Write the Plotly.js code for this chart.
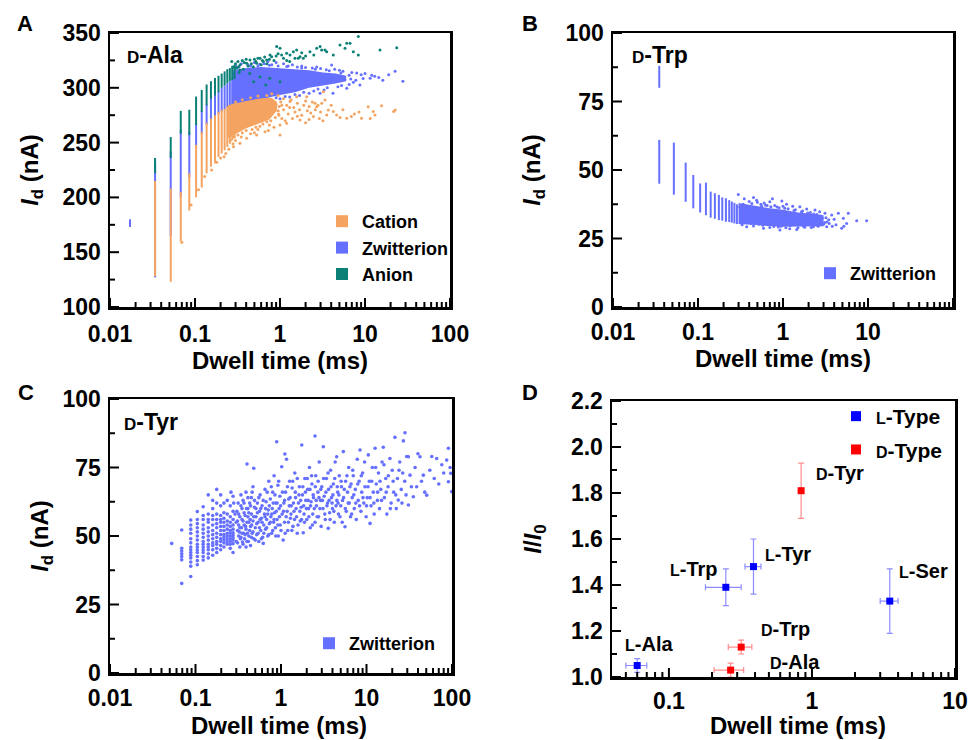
<!DOCTYPE html>
<html><head><meta charset="utf-8">
<script src="https://cdn.plot.ly/plotly-3.0.1.min.js"></script>
<style>html,body{margin:0;padding:0;background:#fff}#chart{width:969px;height:740px}</style>
</head><body><div id="chart"></div>
<script>
// ---------------- Panel A (D-Ala) ----------------
const aColX = [0.0172,0.0339,0.0518,0.068,0.0857,0.103,0.120,0.137,0.154,0.172,0.189,0.206,0.223,0.240,0.257,0.274,0.292];
const aCatMin = [null,128,123,160,188,200,209,222,228,231,237,240,243,246,249,252,254];
const aCatMax = [null,215,208,205,222,248,260,268,272,275,278,280,281,283,284,285,286];
const aZwiMin = [173,127,165,200,218,245,258,266,270,273,276,278,280,282,283,284,285];
const aZwiMax = [180,232,242,262,260,268,279,285,291,294,297,300,302,304,306,308,309];
const aAniMin = [null,222,236,258,257,266,278,284,290,293,296,300,302,304,306,307,308];
const aAniMax = [null,236,255,279,280,292,298,303,306,309,311,313,315,317,318,320,321];
const aZwiCore = [[0.28,316],[0.4,318],[0.6,319],[1.0,318],[1.5,317],[2.2,316],[3.2,314],[4.5,313],[6,311],[6,306],[4.5,304],[3.2,302],[2.2,300],[1.5,296],[1.0,293.5],[0.6,289.5],[0.4,287],[0.28,285]];
const aCatCore = [[0.245,284],[0.4,288],[0.6,290.5],[0.8,291],[0.92,287],[0.92,279],[0.75,271],[0.6,268],[0.4,263],[0.245,254]];
const aZwiPts = [[0.3,320],[0.35,322],[0.42,321],[0.5,323],[0.55,320],[0.65,322],[0.72,324],[0.8,321],[0.9,323],[1.1,322],[1.25,320],[1.4,321],[1.6,319],[1.8,320],[2.0,318.5],[2.4,318],[2.7,319],[3.0,317.5],[3.5,316.5],[4.05,320.8],[4.4,317],[5.0,316],[5.5,315],[7,314],[8,313.5],[9,312],[10,313],[11.5,308.6],[13,310.5],[16.2,307],[22.6,315],[27.9,306],[19,312],[14.5,309.5],[12,311.5],[9.5,308.5],
 [0.45,284],[0.55,286],[0.6,288],[0.7,289],[0.8,287.5],[0.9,291],[1.0,290],[1.15,292],[1.3,291.5],[1.5,294],[1.7,293],[1.9,296],[2.2,295],[2.5,297],[2.8,299],[2.96,295],[3.3,298],[3.6,300],[4.2,295],[4.8,301],[5.3,302],[6.1,299.5],[6.5,303],[7.3,305],[8.7,302.5],[7.8,307],[6.8,308],[5.8,307.5],
 [0.35,282],[0.4,280],[0.5,283],[0.65,285],[0.3,278],
 [0.33,319],[0.45,320],[0.58,321.5],[0.75,320.5],[0.95,320],[1.2,319.5],[1.8,318],[2.6,317],[3.8,315.5],[5.2,313.5],[6.5,311.5]];
const aCatPts = [[0.157,225],[0.22,237],[0.284,246.3],[0.338,249.4],[0.405,253.9],[0.531,257],[0.665,260],[0.73,261],[1.0,257],[1.197,267.6],[1.72,270.6],[2.47,273.7],[2.7,282.8],[3.54,275.2],[3.7,279.8],[4.24,278.3],[4.64,275.2],[5.08,272.8],[6.09,272.2],[6.9,273.7],[9.1,272.2],[10.9,282.8],[12.5,278.3],[13.1,275.2],[15.7,283.7],[21.7,278.3],[22.7,279.8],[3.24,296.5],[3.38,288.9],[2.58,285.9],[2.06,291.9],[1.57,291.9],[1.31,287.4],
 [1.1,280],[1.2,284],[1.25,276],[1.35,289],[1.45,282],[1.5,278],[1.6,286],[1.7,280],[1.8,275],[1.9,284],[2.0,288],[2.1,279],[2.2,283],[2.3,277],[2.4,287],[2.6,280],[2.8,284],[3.0,278],[3.1,286],[2.9,272],[2.2,271],[1.4,272],[1.15,270],[1.05,284],[0.95,279],[0.75,266],[0.55,262],[0.45,258],[0.35,255],[0.3,252],[0.28,249],[0.25,244],[0.23,240],[0.2,236],[0.18,232],
 [4.0,284],[5.5,280],[7.5,276],[8.5,278],[11.5,272],[3.2,270],[0.5,259],[0.85,264],[1.0,266],[1.6,274],[2.0,268],[0.13,219],[0.11,207],[0.09,193],[0.07,159],[1.1,290],[0.9,285],[1.3,282],[0.7,286],[0.5,281],[0.42,275],[0.6,274],[0.8,278],[1.05,272],[0.65,282],[0.38,270],
 [0.26,252],[0.29,255],[0.32,257],[0.36,259],[0.4,261],[0.47,262],[0.52,264],[0.58,265],[0.63,267],[0.7,269],[0.78,270],[0.88,273],[0.97,275],
 [0.3,287],[0.36,289],[0.45,291],[0.55,292.5],[0.7,293],[0.8,294.5],[0.95,293],[0.98,283],[1.02,287],[0.96,276]];
const aAniPts = [[0.27,323.9],[0.296,317.8],[0.324,319.3],[0.338,316.3],[0.405,322.4],[0.443,325.4],[0.485,319.3],[0.531,322.4],[0.582,326.9],[0.637,323.9],[0.697,325.4],[0.762,330],[0.798,328.4],[0.914,337.6],[1.0,336],[1.045,330],[1.197,331.5],[1.31,330],[1.435,333],[1.57,334.5],[1.64,326.9],[1.72,328.4],[1.88,326.9],[2.25,333],[2.70,336],[2.96,337.6],[3.09,334.5],[3.38,334.5],[3.54,333],[4.24,330],[5.08,339.1],[5.82,336],[6.09,340.6],[6.66,340.6],[7.29,333],[8.35,346.7],[8.35,330],[15.0,334.5],[23.6,336.6],
 [0.3,322],[0.32,324],[0.34,321],[0.36,325],[0.38,323],[0.4,326],[0.42,320],[0.46,322],[0.5,326],[0.52,324],[0.55,327],[0.6,321],[0.62,325],[0.66,328],[0.7,322],[0.75,326],[0.85,325],[0.9,329],[0.95,331],[1.1,327],[1.2,325],[1.3,324],[1.5,327],[1.8,332],[2.0,329],[2.5,330],[0.28,319],[0.31,318],[0.33,314],[0.37,317],[0.44,313],[0.68,302.6],[0.76,308.7],[1.0,305.6],[0.49,305.6],[0.58,310]];

// ---------------- Panel B (D-Trp) ----------------
const bColX = [0.035,0.035,0.052,0.0716,0.088,0.106,0.124,0.141,0.158,0.176,0.193,0.213,0.233,0.25,0.268,0.287];
const bColMin = [80,45,41,38.4,36,34.5,33.5,32.6,32.2,31.7,31.5,31.1,31,30.8,30.5,30.3];
const bColMax = [88,61,60,52.7,48.2,45.1,45.4,42.1,41.5,40.9,40,39.7,39,38.5,38,37.5];
const bCore = [[0.3,38],[0.45,37],[0.7,36],[1.0,35.5],[1.5,34.5],[2.2,34],[3,33.5],[3,29.5],[2.2,29.5],[1.5,29.3],[1.0,29.3],[0.7,29.6],[0.45,30],[0.3,30.3]];
const bPts = [[0.298,41.1],[0.49,39],[0.70,38.4],[0.97,38.7],[1.58,36.6],[2.38,35.4],[3.12,34.2],[3.74,33.6],[4.48,34.2],[5.13,32.4],[5.87,34.2],[4.9,28.7],[5.6,30.5],[7.36,31.5],[9.64,31.5],[3.27,29.3],[0.374,29.3],[0.59,28.7],[0.92,28.1],[1.45,28.3],[2.28,29.3],
 [0.35,39.5],[0.4,38.5],[0.45,40],[0.55,37.5],[0.6,38],[0.65,37],[0.75,39.5],[0.85,36.5],[1.05,36],[1.1,37.5],[1.3,36.8],[1.4,35.5],[1.7,35],[1.9,35.8],[2.1,34.5],[2.5,33.8],[2.7,34.8],[2.9,32.5],[3.3,31],[3.5,30.5],[3.0,30.2],[4.0,32],[4.2,30],[2.6,29.5],[1.8,29.1],[1.2,28.6],[0.7,29],[0.45,29.6],[0.33,30],[1.6,30],[2.4,31.5],[2.0,32.5],[2.8,31.2],[3.8,29.5],[5.2,29.5],
 [0.31,36.5],[0.32,31],[0.34,37.5],[0.36,33],[0.38,36],[0.42,30.5],[0.43,37.8],[0.48,31.2],[0.5,38.2],[0.52,30.2],[0.56,36.8],[0.58,29.8],[0.62,37.2],[0.66,30],[0.72,36.6],[0.78,29.4],[0.8,37],[0.88,29.2],[0.9,36.2],[0.95,29.5],[1.0,36.8],[1.08,28.9],[1.15,35.9],[1.22,29.7],[1.35,35.2],[1.5,28.9],[1.65,34.8],[1.75,29.4],[1.95,34.3],[2.15,29],[2.3,33.9],[2.55,29.7],[2.75,33.2],[3.1,30.8],[3.2,32.6],[3.45,31.8]];

// ---------------- Panel C (D-Tyr) ----------------
const cColX = [0.0527,0.069,0.088,0.105,0.123,0.141,0.159,0.177,0.197,0.215,0.235,0.255,0.275];
const cColY = [[47.3],[52.2,45.5,44.5,43.5,42.5,41.3,32.7],[55.8,54,52.5,51,49,47.5,46,45,44,43,42,40.5,39,35.2],[58.9,56,54.5,53,51.5,50,48.5,47,46,45,44,42.5,41,39.5],[60.7,57.5,56,54,52.5,51,49.5,48,47,46,45,44,42.5,41.2],[65,58,56,55,53,51.5,50,48.5,47,46,45,43.5,42],[63,60,57.5,56,54,52,50.5,49,47.5,46.5,45,43],[67,62,58,56,54.5,53,51,49.5,48,47,45.5,44],[65,61,57.5,56,55,53.5,52,50.5,49,48,46.5,45],[62,58.5,56.5,55,53.5,52,50.5,49.5,48.5,47.5,46],[63,58,55.5,54,52.5,51,50,49,48,47],[61,57,55,53.5,52,51,50,49,48,47,45.5],[64.5,59,56,54,52.5,51.2,50.3,49.4,48.5,47.2,44]];
const cPts = [[0.30,48],[0.31,52],[0.31,55.5],[0.32,50],[0.32,58],[0.33,46],[0.33,53],[0.34,61],[0.34,49.5],[0.35,56],[0.35,51],[0.36,63],[0.36,47],[0.37,54],[0.37,58.5],[0.38,50.5],[0.39,66],[0.39,52.5],[0.40,76.3],[0.40,48],[0.41,57],[0.41,60],[0.42,55],[0.42,50],[0.43,62],[0.44,53.5],[0.44,46.5],[0.45,58],[0.45,64],[0.46,51],[0.47,55.5],[0.47,68],[0.48,74.7],[0.48,49],[0.49,60.5],[0.50,53],
 [0.51,57],[0.52,50.5],[0.53,62],[0.54,55],[0.55,48],[0.56,59],[0.57,65],[0.58,52],[0.59,56.5],[0.60,61],[0.61,49.5],[0.62,47.3],[0.63,54],[0.64,58],[0.65,67],[0.66,52.5],[0.67,62.5],[0.68,56],[0.70,50],[0.71,59.5],[0.72,70],[0.73,54.5],[0.75,63.5],[0.76,57],[0.78,51],[0.79,60],[0.80,66],[0.82,55],[0.83,72],[0.84,58.5],[0.86,53],[0.87,62],[0.89,84.4],[0.90,56],[0.92,68.5],[0.93,50],[0.95,60],[0.97,64.5],[0.98,54],
 [1.02,75.3],[1.03,58],[1.06,48.5],[1.08,62],[1.10,55],[1.11,79.9],[1.13,66],[1.16,78],[1.18,59],[1.2,52],[1.23,63.5],[1.26,70],[1.29,56.5],[1.32,61],[1.35,67.5],[1.38,53.5],[1.42,59],[1.45,73],[1.48,64],[1.52,57],[1.55,51],[1.6,62],[1.64,68],[1.68,55.5],[1.72,60.5],[1.75,83.2],[1.78,65],[1.82,51.2],[1.86,58],[1.9,71],[1.95,63],[2.0,56],[2.05,67],[2.1,60],[2.15,75],[2.2,53],[2.25,62.5],[2.3,69],[2.35,58],[2.4,64],[2.5,86.5],[2.5,55],[2.55,72],[2.6,61],[2.7,66],[2.75,57],[2.8,77],[2.9,63],[2.95,53.5],
 [3.0,68],[3.13,82.6],[3.1,60],[3.2,64.5],[3.3,56],[3.4,71],[3.5,62],[3.57,52.8],[3.6,67],[3.7,58.5],[3.8,74],[3.9,64],[4.0,60],[4.1,69],[4.2,55],[4.3,77],[4.48,78.9],[4.5,63],[4.6,66],[4.7,58],[4.8,72],[5.0,61],[5.1,68],[5.2,55],[5.36,80.8],[5.4,64],[5.6,53.4],[5.7,70],[5.8,59],[6.0,66],[6.2,75],[6.3,62],[6.5,57],[6.6,69],[6.8,64],[7.0,72],[7.2,60],[7.4,67],[7.6,56],[7.8,78],[8.0,63],[8.2,70],[8.4,81.4],[8.6,59],[8.8,66],[9.0,73],[9.3,62],[9.6,68],[9.9,57],
 [10.2,64],[10.5,79.6],[10.8,70],[11.0,54.6],[11.3,61],[11.7,75],[12.0,66],[12.3,58],[12.6,82],[13.0,69],[13.4,63],[13.8,73],[14.2,60],[14.7,67],[15.2,77],[15.7,82.4],[16.2,64],[16.8,71],[17.3,58],[17.9,68],[18.8,78.3],[19.4,62],[20.0,74],[20.8,66],[21.5,86],[22.3,60],[23.0,71],[23.5,63.1],[24.5,77],[25.5,67],[26.5,73],[27,84.7],[28.2,87.7],[29,65],[29.5,79],
 [30.9,78.9],[30.9,61.3],[32.3,72.2],[33.5,68],[35.3,64.3],[37,75],[38.6,68],[40,80],[42.3,78.9],[44,70],[46.2,72.2],[48,66],[50.6,64.9],[55,74],[58,79],[62,71],[66.2,78.3],[70,69],[76,76],[80,73],[86.7,77.7],[90.8,82],[90.8,69.8],[96.6,72.9],[99.3,66.2],[95,75],[0.26,66],[0.28,62],[0.29,58],
 [0.30,55],[0.305,59],[0.31,47.5],[0.315,62],[0.32,54],[0.325,51.5],[0.33,57],[0.335,49],[0.34,65],[0.345,53],[0.35,60],[0.355,47.8],[0.36,55.5],[0.365,51],[0.37,62],[0.375,49],[0.38,57.5],[0.385,53.5],[0.39,46],[0.395,60],[0.40,55],[0.405,51],[0.41,64],[0.415,48],[0.42,58.5],[0.43,52],[0.435,56],[0.44,61],[0.45,49.5],[0.455,54],[0.46,66],[0.47,51.5],[0.48,57],[0.49,63],[0.50,48.5],[0.51,60],[0.52,54.5],[0.53,58.5],[0.54,51],[0.55,64],[0.56,53],[0.57,56],[0.58,60],[0.59,49],[0.60,55],
 [0.62,63],[0.63,51],[0.65,57],[0.66,60],[0.68,53],[0.69,66],[0.7,58],[0.72,50.5],[0.73,61],[0.75,55],[0.77,68],[0.78,58],[0.8,52],[0.81,62],[0.83,56],[0.85,65],[0.87,50],[0.88,59],[0.9,62],[0.92,54],[0.94,70],[0.96,57],[0.99,61],[1.0,52],[1.04,66],[1.07,59],[1.1,63],[1.12,51],[1.15,57],[1.19,68],[1.22,55],[1.25,61],[1.28,64],[1.31,58],[1.34,52],[1.37,70],[1.4,62],[1.44,56],[1.47,66],
 [1.5,60],[1.55,71],[1.58,54],[1.62,65],[1.66,59],[1.7,63],[1.74,56],[1.8,68],[1.84,61],[1.88,55],[1.93,66],[1.98,60],[2.03,71],[2.08,63],[2.12,57],[2.18,67],[2.22,61],[2.28,72],[2.33,54],[2.38,65],[2.45,60],[2.52,68],[2.58,63],[2.65,57],[2.72,70],[2.78,64],[2.85,60],[2.92,67],[3.05,63],[3.15,71],[3.25,58],[3.35,66],[3.45,61],[3.55,73],[3.65,63],[3.75,56],[3.85,68],[3.95,62],[4.05,65],[4.15,59],[4.25,71],[4.4,61],[4.55,68],[4.65,62],[4.75,65],[4.9,57],
 [5.05,70],[5.25,63],[5.5,67],[5.65,60],[5.9,72],[6.1,62],[6.4,68],[6.7,58],[6.9,74],[7.1,65],[7.5,62],[7.9,69],[8.3,61],[8.7,72],[9.1,64],[9.5,77],[10,61],[10.4,68],[11,64],[11.5,70],[12.2,62],[12.8,75],[13.5,66],[14.4,70],[15,63],[16,76],[17,66],[18,72],[19,60],[20.5,70],[22,65],[24,74],[26,62],[28,70]];

// ---------------- Panel D ----------------
const lNames = ['L-Ala','L-Trp','L-Tyr','L-Ser'];
const lX = [0.06,0.25,0.39,3.5];
const lY = [1.05,1.39,1.48,1.33];
const lXerr = [0.01,0.07,0.05,0.5];
const lYerr = [0.03,0.08,0.12,0.14];
const dNames = ['D-Tyr','D-Trp','D-Ala'];
const dX = [0.84,0.32,0.27];
const dY = [1.81,1.13,1.03];
const dXerr = [0.025,0.06,0.063];
const dYerr = [0.12,0.03,0.03];

// tick values / labels
const decTicks = [0.01,0.1,1,10,100];
const decText = ['0.01','0.1','1','10','100'];
const minorLog = [0.02,0.03,0.04,0.05,0.06,0.07,0.08,0.09,0.2,0.3,0.4,0.5,0.6,0.7,0.8,0.9,2,3,4,5,6,7,8,9,20,30,40,50,60,70,80,90];
const dTicks = [0.1,1,10];
const dText = ['0.1','1','10'];
const minorLogD = [0.05,0.06,0.07,0.08,0.09,0.2,0.3,0.4,0.5,0.6,0.7,0.8,0.9,2,3,4,5,6,7,8,9];
const yTicksA = [100,150,200,250,300,350], yMinorA = [125,175,225,275,325];
const yTicksBC = [0,25,50,75,100], yMinorBC = [12.5,37.5,62.5,87.5];
const yTicksD = [1.0,1.2,1.4,1.6,1.8,2.0,2.2], yMinorD = [1.1,1.3,1.5,1.7,1.9,2.1];

// ---------------- styling / build ----------------
const F = 'Liberation Sans, Arial, sans-serif';
const COL = {cat:'#F4A460', zwi:'#6670FF', ani:'#0B8076', L:'#0000FF', D:'#FF0000'};

function segs(xs, mins, maxs){ const X=[],Y=[]; xs.forEach((x,i)=>{ if(mins[i]==null) return; X.push(x,x,null); Y.push(mins[i],maxs[i],null); }); return {X,Y}; }
function colLine(xs,mins,maxs,color,xa,ya){ const s=segs(xs,mins,maxs); return {x:s.X,y:s.Y,mode:'lines',line:{color,width:2},xaxis:xa,yaxis:ya,showlegend:false,hoverinfo:'skip',connectgaps:false}; }
function pts(list,color,xa,ya,size){ return {x:list.map(p=>p[0]),y:list.map(p=>p[1]),mode:'markers',marker:{color,size:size||3,line:{width:0}},xaxis:xa,yaxis:ya,showlegend:false,hoverinfo:'skip'}; }
function core(list,color,xa,ya){ return {x:list.map(p=>p[0]).concat([list[0][0]]),y:list.map(p=>p[1]).concat([list[0][1]]),mode:'lines',fill:'toself',fillcolor:color,line:{width:0,color},xaxis:xa,yaxis:ya,showlegend:false,hoverinfo:'skip'}; }
function legItem(name,color,lg,xa,ya,size,group){ const t={x:[null],y:[null],mode:'markers',marker:{symbol:'square',size:size||12,color},name,legend:lg,xaxis:xa,yaxis:ya,showlegend:true}; if(group) t.legendgroup=group; return t; }

const sc = t => '<span style="font-size:16px">'+t+'</span>';
const smallCap = s => sc(s[0]) + s.slice(1);

const traces = [];
// A
traces.push(colLine(aColX,aZwiMin,aZwiMax,COL.zwi,'x','y'));
traces.push(core(aZwiCore,COL.zwi,'x','y'));
traces.push(pts(aZwiPts,COL.zwi,'x','y'));
traces.push(colLine(aColX,aCatMin,aCatMax,COL.cat,'x','y'));
traces.push(core(aCatCore,COL.cat,'x','y'));
traces.push(pts(aCatPts,COL.cat,'x','y'));
traces.push(colLine(aColX,aAniMin,aAniMax,COL.ani,'x','y'));
traces.push(pts(aAniPts,COL.ani,'x','y'));
traces.push(legItem('Cation',COL.cat,'legend','x','y'));
traces.push(legItem('Zwitterion',COL.zwi,'legend','x','y'));
traces.push(legItem('Anion',COL.ani,'legend','x','y'));
// B
traces.push(colLine(bColX,bColMin,bColMax,COL.zwi,'x2','y2'));
traces.push(core(bCore,COL.zwi,'x2','y2'));
traces.push(pts(bPts,COL.zwi,'x2','y2'));
traces.push(legItem('Zwitterion',COL.zwi,'legend2','x2','y2'));
// C
const cAllX=[], cAllY=[];
cColX.forEach((x,i)=>cColY[i].forEach(y=>{cAllX.push(x);cAllY.push(y);}));
cPts.forEach(p=>{cAllX.push(p[0]);cAllY.push(p[1]);});
traces.push({x:cAllX,y:cAllY,mode:'markers',marker:{color:COL.zwi,size:3.6,line:{width:0}},xaxis:'x3',yaxis:'y3',showlegend:false,hoverinfo:'skip'});
traces.push(legItem('Zwitterion',COL.zwi,'legend3','x3','y3'));
// D
traces.push({x:lX,y:lY,mode:'markers',marker:{symbol:'square',size:7,color:COL.L},error_x:{type:'data',array:lXerr,color:'rgba(0,0,255,0.45)',thickness:1.2,width:3},error_y:{type:'data',array:lYerr,color:'rgba(0,0,255,0.45)',thickness:1.2,width:3},xaxis:'x4',yaxis:'y4',showlegend:false,hoverinfo:'skip'});
traces.push({x:dX,y:dY,mode:'markers',marker:{symbol:'square',size:7,color:COL.D},error_x:{type:'data',array:dXerr,color:'rgba(255,0,0,0.45)',thickness:1.2,width:3},error_y:{type:'data',array:dYerr,color:'rgba(255,0,0,0.45)',thickness:1.2,width:3},xaxis:'x4',yaxis:'y4',showlegend:false,hoverinfo:'skip'});
traces.push(legItem(smallCap('L-Type'),COL.L,'legend4','x4','y4',10,'gL'));
traces.push(legItem(smallCap('D-Type'),COL.D,'legend4','x4','y4',10,'gD'));

// inward tick marks (major 9 px, minor 5 px), drawn as line traces on each subplot
const panels = [
  {xa:'x',ya:'y',w:340,h:274,xt:decTicks,xm:minorLog,yt:yTicksA,ym:yMinorA,xr:[0.01,100],yr:[100,350]},
  {xa:'x2',ya:'y2',w:340,h:274,xt:decTicks,xm:minorLog,yt:yTicksBC,ym:yMinorBC,xr:[0.01,100],yr:[0,100]},
  {xa:'x3',ya:'y3',w:342,h:274,xt:decTicks,xm:minorLog,yt:yTicksBC,ym:yMinorBC,xr:[0.01,100],yr:[0,100]},
  {xa:'x4',ya:'y4',w:343,h:276,xt:dTicks,xm:minorLogD,yt:yTicksD,ym:yMinorD,xr:[0.04,10],yr:[1.0,2.2]}
];
panels.forEach(p=>{
  const X=[],Y=[];
  const dy = len => len*(p.yr[1]-p.yr[0])/p.h;
  const xOff = len => p.xr[0]*Math.pow(10, len*Math.log10(p.xr[1]/p.xr[0])/p.w);
  const xt=(v,len)=>{ if(v<p.xr[0]||v>p.xr[1]) return; X.push(v,v,null); Y.push(p.yr[0],p.yr[0]+dy(len),null); };
  const yt=(v,len)=>{ X.push(p.xr[0],xOff(len),null); Y.push(v,v,null); };
  p.xt.forEach(v=>xt(v,9)); p.xm.forEach(v=>xt(v,5));
  p.yt.forEach(v=>yt(v,9)); p.ym.forEach(v=>yt(v,5));
  traces.push({x:X,y:Y,mode:'lines',line:{color:'#000',width:2},xaxis:p.xa,yaxis:p.ya,showlegend:false,hoverinfo:'skip',connectgaps:false});
});

const tickFont = {family:F,size:23,color:'#000',weight:'bold'};
const titleFont = {family:F,size:24,color:'#000',weight:'bold'};
const xTitle = 'Dwell time (ms)';
function xAx(domain,anchor,range,tv,tt,lstand,title){
  return {type:'log',domain,anchor,range,tickmode:'array',tickvals:tv,ticktext:tt,ticks:'',ticklabelstandoff:lstand,
    showline:true,linewidth:2.5,linecolor:'#000',mirror:true,showgrid:false,zeroline:false,tickfont:tickFont,
    title:{text:title,font:titleFont,standoff:0}};
}
function yAx(domain,anchor,range,tv,title,fmt,standoff){
  return {domain,anchor,range,tickmode:'array',tickvals:tv,ticktext:tv.map(v=>fmt?v.toFixed(1):String(v)),ticks:'',ticklabelstandoff:2,
    showline:true,linewidth:2.5,linecolor:'#000',mirror:true,showgrid:false,zeroline:false,tickfont:tickFont,
    title:{text:title,font:titleFont,standoff}};
}
const W=969,H=740;
const dom = (a,b)=>[a/W,b/W];
const ydom = (top,bot)=>[1-bot/H,1-top/H];
const yTitle = '<i>I</i><sub>d</sub> (nA)';

const legBase = {bgcolor:'rgba(0,0,0,0)',xanchor:'left',yanchor:'top',font:{family:F,size:18,color:'#000',weight:'bold'},itemclick:false,itemdoubleclick:false};

const layout = {
  width:W,height:H,margin:{l:0,r:0,t:0,b:0},paper_bgcolor:'#fff',plot_bgcolor:'#fff',
  font:{family:F,color:'#000'},
  xaxis: xAx(dom(110,450),'y',[-2,2],decTicks,decText,5,xTitle),
  yaxis: yAx(ydom(33,307),'x',[100,350],yTicksA,yTitle,false,17),
  xaxis2: xAx(dom(613,953),'y2',[-2,2],decTicks,decText,3,xTitle),
  yaxis2: yAx(ydom(33,307),'x2',[0,100],yTicksBC,yTitle,false,18),
  xaxis3: xAx(dom(110,452),'y3',[-2,2],decTicks,decText,3,''),
  yaxis3: yAx(ydom(399,673),'x3',[0,100],yTicksBC,yTitle,false,7),
  xaxis4: xAx(dom(612,955),'y4',[Math.log10(0.04),1],dTicks,dText,2,''),
  yaxis4: yAx(ydom(401,677),'x4',[1.0,2.2],yTicksD,'<i>I</i>/<i>I</i><sub>0</sub>',true,23),
  legend: Object.assign({},legBase,{x:322/W,y:1-203/H}),
  legend2: Object.assign({},legBase,{x:810/W,y:1-255/H}),
  legend3: Object.assign({},legBase,{x:309/W,y:1-625/H}),
  legend4: Object.assign({},legBase,{x:836/W,y:1-396/H,font:{family:F,size:21,color:'#000',weight:'bold'},tracegroupgap:3}),
  showlegend:true,
  annotations:[]
};

const ann = layout.annotations;
// bottom-row x-axis titles, sitting on the lower page edge
[279,798].forEach(px=>ann.push({text:xTitle,xref:'paper',yref:'paper',x:px/W,y:0,showarrow:false,xanchor:'center',yanchor:'bottom',borderpad:0,font:titleFont}));
const lblFont = {family:F,size:22,color:'#000',weight:'bold'};
[['A',25,23],['B',530,23],['C',26,392],['D',530,392]].forEach(p=>ann.push({text:p[0],x:p[1]/W,y:1-p[2]/H,xref:'paper',yref:'paper',showarrow:false,font:lblFont,xanchor:'center',yanchor:'middle'}));
const inner = [['D-Ala','x','y',0.044,0.92],['D-Trp','x2','y2',0.05,0.92],['D-Tyr','x3','y3',0.034,0.917]];
inner.forEach(p=>ann.push({text:'<span style="font-size:17px">'+p[0][0]+'</span>'+p[0].slice(1),xref:p[1]+' domain',yref:p[2]+' domain',x:p[3],y:p[4],showarrow:false,xanchor:'left',yanchor:'middle',font:{family:F,size:23,color:'#000',weight:'bold'}}));
// D panel point-label placement (x in ms, y in I/I0)
const dLabelPos = {'L-Ala':[0.0475,1.142],'L-Trp':[0.098,1.471],'L-Tyr':[0.458,1.536],'L-Ser':[3.94,1.461],'D-Tyr':[1.03,1.886],'D-Trp':[0.427,1.21],'D-Ala':[0.492,1.065]};
lNames.concat(dNames).forEach(n=>{const p=dLabelPos[n]; ann.push({text:sc(n[0])+n.slice(1),xref:'x4',yref:'y4',x:Math.log10(p[0]),y:p[1],showarrow:false,xanchor:'left',yanchor:'middle',font:{family:F,size:20,color:'#000',weight:'bold'}});});

Plotly.newPlot('chart',traces,layout,{staticPlot:true,displayModeBar:false});
</script></body></html>
